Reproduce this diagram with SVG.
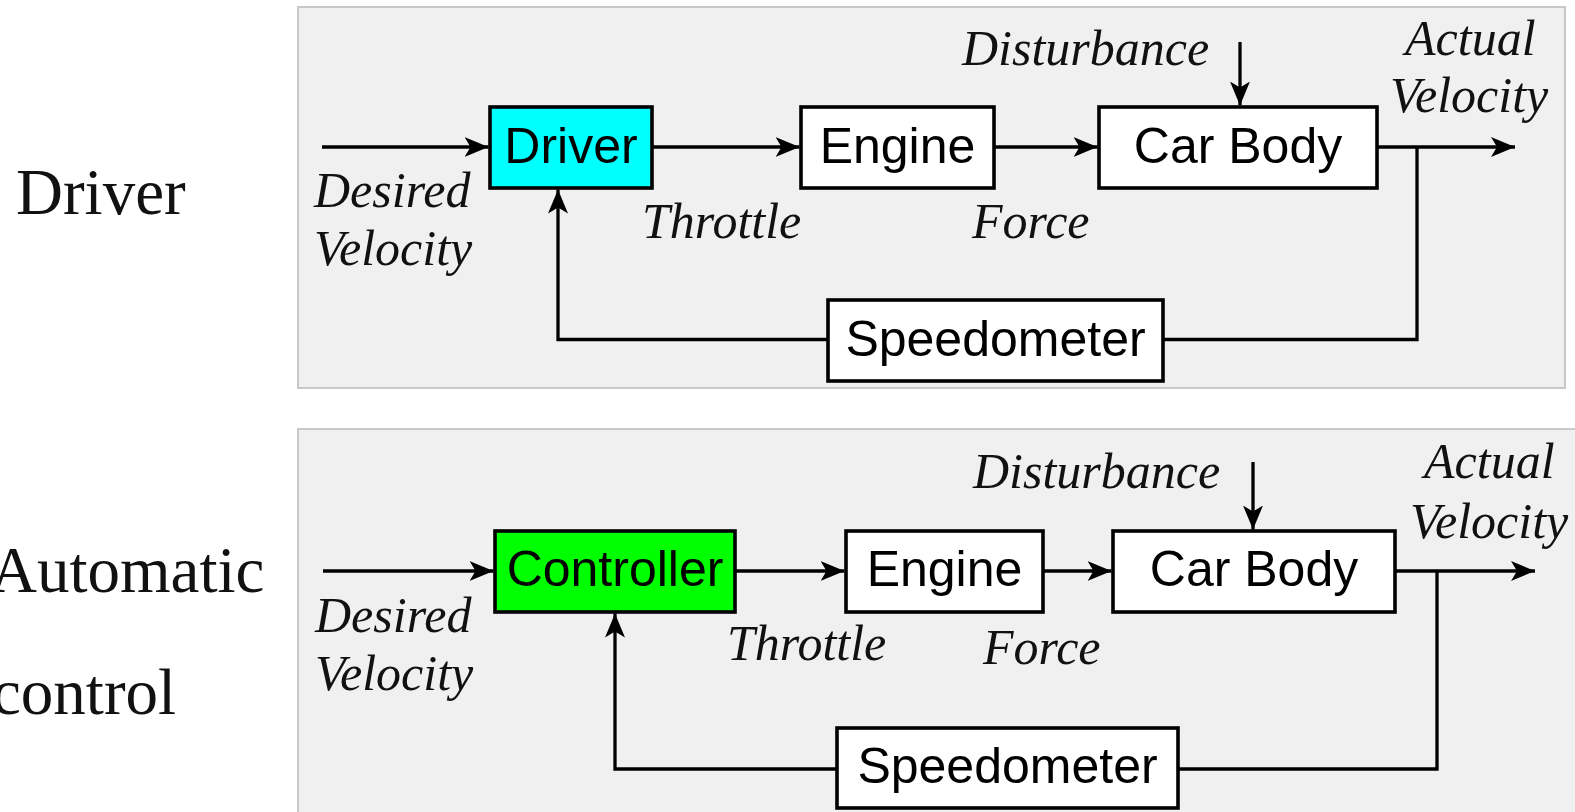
<svg xmlns="http://www.w3.org/2000/svg" width="1575" height="812" viewBox="0 0 1575 812">
<defs>
<marker id="arr" markerUnits="userSpaceOnUse" markerWidth="26" markerHeight="22" refX="24" refY="10" orient="auto" viewBox="0 0 26 22">
<path d="M0,0 L24,10 L0,20 L6,10 z" fill="#000"/>
</marker>
<style>
.panel{fill:#f0f0f0;stroke:#c8c8c8;stroke-width:2}
.box{stroke:#000;stroke-width:3.6}
.white{fill:#fff}
.cyan{fill:#00ffff}
.green{fill:#00ff00}
.bt{font-family:"Liberation Sans",Arial,sans-serif;font-size:50px;fill:#000;text-anchor:middle}
.lbl{font-family:"Liberation Serif","Times New Roman",serif;font-style:italic;font-size:50px;fill:#111}
.side{font-family:"Liberation Serif","Times New Roman",serif;font-size:65px;fill:#111}
.ln{fill:none;stroke:#000;stroke-width:3.3}
.ar{marker-end:url(#arr)}
</style>
</defs>
<rect width="1575" height="812" fill="#fff"/>
<rect class="panel" x="298" y="7" width="1267" height="381"/>
<rect class="panel" x="298" y="429" width="1292" height="400"/>
<g id="side-labels">
<text class="side" x="16" y="214">Driver</text>
<text class="side" x="-10" y="592">Automatic</text>
<text class="side" x="-8" y="714">control</text>
</g>
<g id="connectors">
<line class="ln ar" x1="322" y1="147" x2="488.5" y2="147"/>
<line class="ln ar" x1="652" y1="147" x2="799.5" y2="147"/>
<line class="ln ar" x1="994" y1="147" x2="1097.5" y2="147"/>
<line class="ln ar" x1="1377" y1="147" x2="1515" y2="147"/>
<polyline class="ln" points="1417,147 1417,339.5 1163,339.5"/>
<polyline class="ln ar" points="828,339.5 558,339.5 558,189.5"/>
<line class="ln ar" x1="1240" y1="42" x2="1240" y2="105.5"/>
<line class="ln ar" x1="323" y1="571" x2="493.5" y2="571"/>
<line class="ln ar" x1="735" y1="571" x2="844.5" y2="571"/>
<line class="ln ar" x1="1043" y1="571" x2="1111.5" y2="571"/>
<line class="ln ar" x1="1395" y1="571" x2="1535" y2="571"/>
<polyline class="ln" points="1437,571 1437,769 1178,769"/>
<polyline class="ln ar" points="837,769 615,769 615,613.5"/>
<line class="ln ar" x1="1253" y1="462" x2="1253" y2="529.5"/>
</g>
<g id="top-driver"><rect class="box cyan" x="490" y="107" width="162" height="81"/><text class="bt" x="571" y="163">Driver</text></g>
<g id="top-engine"><rect class="box white" x="801" y="107" width="193" height="81"/><text class="bt" x="897.5" y="163">Engine</text></g>
<g id="top-carbody"><rect class="box white" x="1099" y="107" width="278" height="81"/><text class="bt" x="1238" y="163">Car Body</text></g>
<g id="top-speedometer"><rect class="box white" x="828" y="300" width="335" height="81"/><text class="bt" x="995.5" y="356">Speedometer</text></g>
<g id="bot-controller"><rect class="box green" x="495" y="531" width="240" height="81"/><text class="bt" x="615" y="586">Controller</text></g>
<g id="bot-engine"><rect class="box white" x="846" y="531" width="197" height="81"/><text class="bt" x="944.5" y="586">Engine</text></g>
<g id="bot-carbody"><rect class="box white" x="1113" y="531" width="282" height="81"/><text class="bt" x="1254" y="586">Car Body</text></g>
<g id="bot-speedometer"><rect class="box white" x="837" y="728" width="341" height="80"/><text class="bt" x="1007.5" y="783">Speedometer</text></g>
<g id="labels">
<text class="lbl" x="962" y="65">Disturbance</text>
<text class="lbl" x="1405" y="55">Actual</text>
<text class="lbl" x="1390" y="112">Velocity</text>
<text class="lbl" x="314" y="207">Desired</text>
<text class="lbl" x="314" y="265">Velocity</text>
<text class="lbl" x="642" y="238">Throttle</text>
<text class="lbl" x="972" y="238">Force</text>
<text class="lbl" x="973" y="488">Disturbance</text>
<text class="lbl" x="1424" y="478">Actual</text>
<text class="lbl" x="1410" y="538">Velocity</text>
<text class="lbl" x="315" y="632">Desired</text>
<text class="lbl" x="315" y="690">Velocity</text>
<text class="lbl" x="727" y="660">Throttle</text>
<text class="lbl" x="983" y="664">Force</text>
</g>
</svg>
